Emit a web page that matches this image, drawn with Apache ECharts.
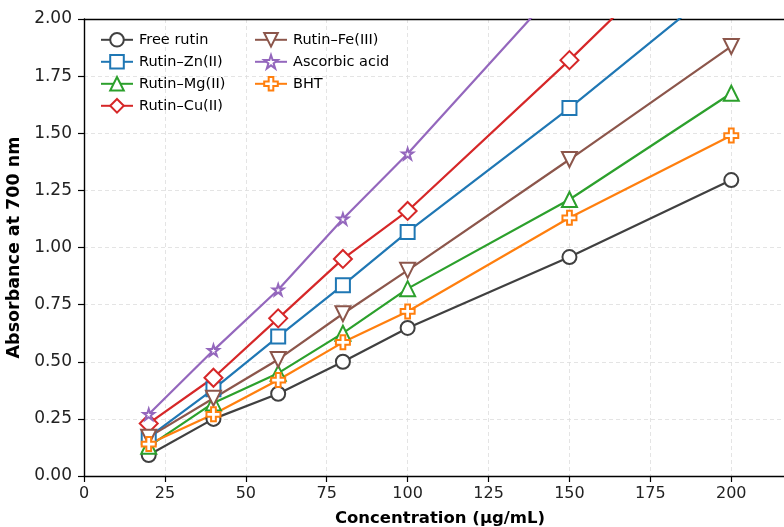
<!DOCTYPE html>
<html>
<head>
<meta charset="utf-8">
<script src="https://cdn.jsdelivr.net/npm/echarts@6/dist/echarts.min.js"></script>
<style>
html, body { margin: 0; padding: 0; background: #fff; }
#main { width: 784px; height: 527px; }
</style>
</head>
<body>
<div id="main"></div>
<script>
var concentrations = [20, 40, 60, 80, 100, 150, 200];
var freeRutin = [0.092, 0.25, 0.36, 0.50, 0.648, 0.958, 1.295];
var rutinZn = [0.17, 0.38, 0.61, 0.835, 1.068, 1.61, 2.185];
var rutinMg = [0.13, 0.32, 0.45, 0.625, 0.82, 1.21, 1.675];
var rutinCu = [0.23, 0.43, 0.69, 0.95, 1.16, 1.82, 2.51];
var rutinFe = [0.17, 0.34, 0.51, 0.71, 0.90, 1.385, 1.88];
var ascorbicAcid = [0.27, 0.55, 0.815, 1.125, 1.41, 2.19, 2.95];
var bht = [0.14, 0.27, 0.42, 0.585, 0.72, 1.13, 1.49];

var FONT = 'DejaVu Sans';

function pairs(vals) {
	var res = [];
	for (var i = 0; i < concentrations.length; i++) {
		res.push([concentrations[i], vals[i]]);
	}
	return res;
}

function makeSeries(name, vals, color, symbol, size) {
	return {
		name : name,
		type : 'line',
		data : pairs(vals),
		symbol : symbol,
		symbolSize : size,
		showAllSymbol : true,
		clip : true,
		lineStyle : { color : color, width : 2.2 },
		itemStyle : { color : '#ffffff', borderColor : color, borderWidth : 2 },
		emphasis : { disabled : true }
	};
}

var downTri = 'path://M0,0 L10,0 L5,9 Z';
var star = 'path://M5,0 L6.2,3.6 L10,3.6 L6.9,5.9 L8.1,9.6 L5,7.3 L1.9,9.6 L3.1,5.9 L0,3.6 L3.8,3.6 Z';
var plus = 'path://M3.3,0 L6.7,0 L6.7,3.3 L10,3.3 L10,6.7 L6.7,6.7 L6.7,10 L3.3,10 L3.3,6.7 L0,6.7 L0,3.3 L3.3,3.3 Z';

var chart = echarts.init(document.getElementById('main'));

var legendBase = {
	orient : 'vertical',
	top : 27,
	itemWidth : 32,
	itemHeight : 17,
	itemGap : 6.4,
	textStyle : { fontFamily : FONT, fontSize : 14.5, color : '#000', padding : [0, 0, 0, 1] },
	selectedMode : false
};

chart.setOption({
	animation : false,
	backgroundColor : '#ffffff',
	grid : { left : 84, width : 712, top : 19, bottom : 51, outerBoundsMode : 'none', containLabel : false },
	legend : [
		Object.assign({}, legendBase, { left : 95, data : ['Free rutin', 'Rutin\u2013Zn(II)', 'Rutin\u2013Mg(II)', 'Rutin\u2013Cu(II)'] }),
		Object.assign({}, legendBase, { left : 249, data : ['Rutin\u2013Fe(III)', 'Ascorbic acid', 'BHT'] })
	],
	xAxis : [ {
		type : 'value',
		min : 0,
		max : 220,
		interval : 25,
		name : 'Concentration (\u00b5g/mL)',
		nameLocation : 'middle',
		nameGap : 34,
		nameTextStyle : { fontFamily : FONT, fontSize : 16.5, fontWeight : 'bold', color : '#000' },
		axisLine : { show : true, lineStyle : { color : '#000', width : 1.4 } },
		axisTick : { show : true, length : 6, lineStyle : { color : '#000', width : 1.2 } },
		axisLabel : { fontFamily : FONT, fontSize : 16, color : '#222', margin : 10, showMaxLabel : false },
		splitLine : { show : true, lineStyle : { color : '#dddddd', type : [4, 3], width : 0.8 } }
	}, {
		type : 'value',
		position : 'top',
		min : 0,
		max : 220,
		axisLine : { show : true, lineStyle : { color : '#000', width : 1.4 } },
		axisTick : { show : false },
		axisLabel : { show : false },
		splitLine : { show : false }
	} ],
	yAxis : {
		type : 'value',
		min : 0,
		max : 2,
		interval : 0.25,
		name : 'Absorbance at 700 nm',
		nameLocation : 'middle',
		nameGap : 50,
		nameTextStyle : { fontFamily : FONT, fontSize : 17.5, fontWeight : 'bold', color : '#000' },
		axisLine : { show : true, lineStyle : { color : '#000', width : 1.4 } },
		axisTick : { show : true, length : 6, lineStyle : { color : '#000', width : 1.2 } },
		axisLabel : {
			fontFamily : FONT, fontSize : 17, color : '#222', margin : 12,
			formatter : function(v) { return v.toFixed(2); }
		},
		splitLine : { show : true, lineStyle : { color : '#dddddd', type : [4, 3], width : 0.8 } }
	},
	series : [
		makeSeries('Free rutin', freeRutin, '#404040', 'circle', 14),
		makeSeries('Rutin\u2013Zn(II)', rutinZn, '#1f77b4', 'rect', 14),
		makeSeries('Rutin\u2013Mg(II)', rutinMg, '#2ca02c', 'triangle', 15),
		makeSeries('Rutin\u2013Cu(II)', rutinCu, '#d62728', 'diamond', 18),
		makeSeries('Rutin\u2013Fe(III)', rutinFe, '#8c564b', downTri, 15),
		makeSeries('Ascorbic acid', ascorbicAcid, '#9467bd', star, 11),
		makeSeries('BHT', bht, '#ff7f0e', plus, 14)
	]
});
</script>
</body>
</html>
